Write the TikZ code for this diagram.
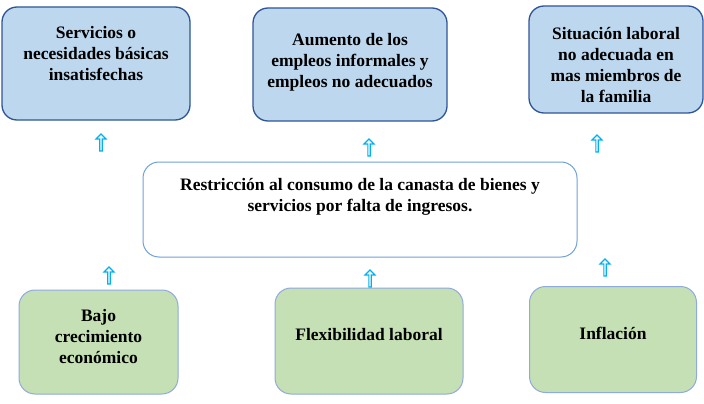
\documentclass[tikz,border=0pt]{standalone}
\usepackage{fontspec}
\setmainfont{Liberation Serif}
\usepackage{tikz}
\usetikzlibrary{shapes.arrows}
\definecolor{efecto}{HTML}{BDD7EE}
\definecolor{efectoborde}{HTML}{2F5597}
\definecolor{problemaborde}{HTML}{6FA0D8}
\definecolor{causa}{HTML}{C5E0B4}
\definecolor{causaborde}{HTML}{8FAADC}
\definecolor{flecha}{HTML}{00B0F0}
\tikzset{
  efbox/.style = {draw=efectoborde, fill=efecto, line width=1.3pt, rounded corners=15pt, inner sep=0pt},
  probbox/.style = {draw=problemaborde, fill=white, line width=1pt, rounded corners=16pt, inner sep=0pt},
  cabox/.style = {draw=causaborde, fill=causa, line width=1pt, rounded corners=16pt, inner sep=0pt},
  txt/.style = {align=center, inner sep=0pt, font=\bfseries\fontsize{17.5}{21}\selectfont},
  uparrow/.style = {single arrow, shape border rotate=90, draw=flecha, fill=white, line width=1.2pt,
                    minimum height=17pt, minimum width=10pt, single arrow head extend=2pt, inner sep=0pt}
}

\begin{document}
\begin{tikzpicture}[x=1pt,y=-1pt]
\useasboundingbox (0,0) rectangle (704,404);
% efectos
\node[efbox, minimum width=188pt, minimum height=113pt] (ef1) at (96,63.5) {};
\node[txt] (ef1t) at (96,54) {Servicios o\\ necesidades básicas\\ insatisfechas};
\node[efbox, minimum width=194pt, minimum height=113pt] (ef2) at (350,64.5) {};
\node[txt] (ef2t) at (350,62) {Aumento de los\\ empleos informales y\\ empleos no adecuados};
\node[efbox, minimum width=174pt, minimum height=107pt] (ef3) at (616,59.5) {};
\node[txt] (ef3t) at (616,65) {Situación laboral\\ no adecuada en\\ mas miembros de\\ la familia};
% problema central
\node[probbox, minimum width=434pt, minimum height=95pt] (prob) at (360,209.5) {};
\node[txt] (probt) at (360,197) {Restricción al consumo de la canasta de bienes y\\ servicios por falta de ingresos.};
% causas
\node[cabox, minimum width=159pt, minimum height=104pt] (ca1) at (98.5,342) {};
\node[txt] (ca1t) at (98.5,337) {Bajo\\ crecimiento\\ económico};
\node[cabox, minimum width=188pt, minimum height=106pt] (ca2) at (369,341) {};
\node[txt] (ca2t) at (369,335) {Flexibilidad laboral};
\node[cabox, minimum width=167pt, minimum height=106pt] (ca3) at (613,339.5) {};
\node[txt] (ca3t) at (613,333) {Inflación};
% flechas
\node[uparrow] (f1) at (101,143) {};
\node[uparrow] (f2) at (369,148) {};
\node[uparrow] (f3) at (597,144) {};
\node[uparrow] (f4) at (109,276) {};
\node[uparrow] (f5) at (370,279) {};
\node[uparrow] (f6) at (605,268) {};
\end{tikzpicture}
\end{document}
